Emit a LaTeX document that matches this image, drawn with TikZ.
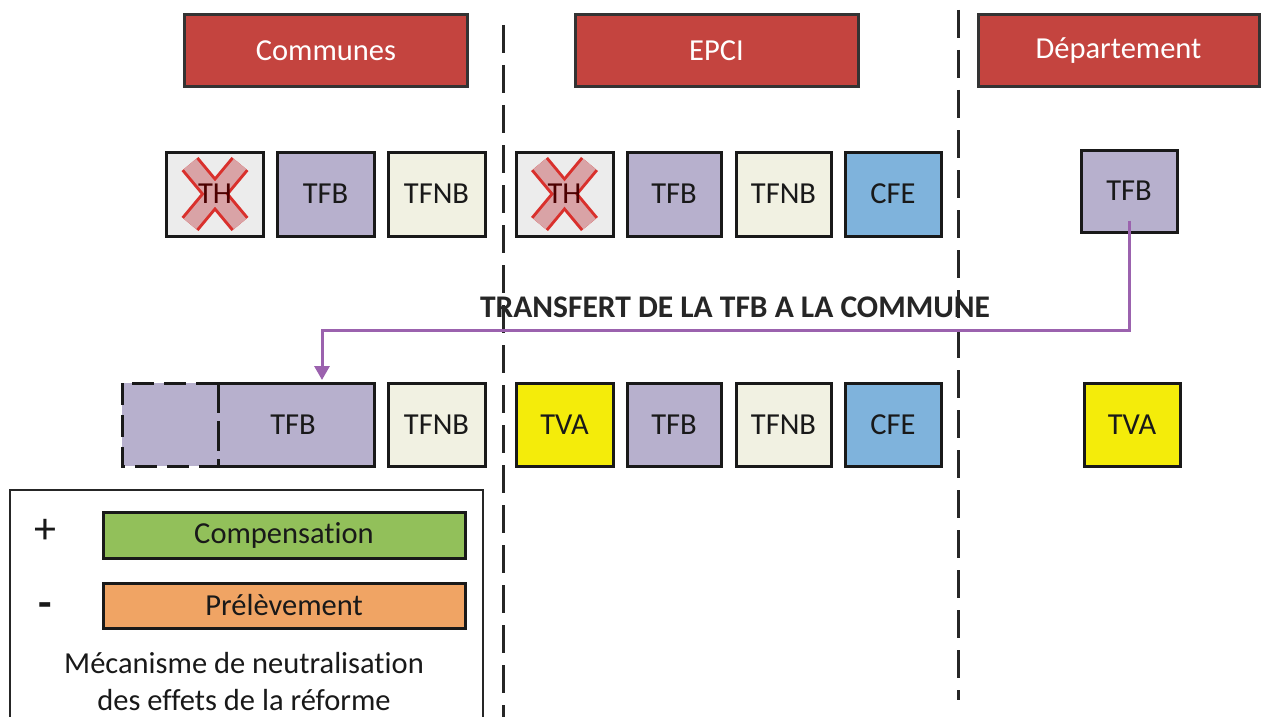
\documentclass[tikz,border=0pt]{standalone}
\usepackage{fontspec}
\setmainfont[Ligatures={NoCommon}]{Carlito}
\usetikzlibrary{arrows.meta,calc}
\definecolor{hdr}{HTML}{C4443F}
\definecolor{tfbc}{HTML}{B7B0CD}
\definecolor{tfnbc}{HTML}{F1F1E2}
\definecolor{thc}{HTML}{ECECEC}
\definecolor{cfec}{HTML}{7FB3DC}
\definecolor{tvac}{HTML}{F4EC0A}
\definecolor{greenc}{HTML}{92C05A}
\definecolor{orangec}{HTML}{F0A464}
\definecolor{xfill}{HTML}{D9A3A6}
\definecolor{xline}{HTML}{D9302C}
\definecolor{arrowc}{HTML}{9B62AE}
\tikzset{
  taxbox/.style={draw=black!90, line width=3pt, minimum width=97pt, minimum height=84pt, inner sep=0pt, text=black!90},
  hdrbox/.style={draw=black!80, line width=3pt, fill=hdr, minimum width=283pt, minimum height=72pt, inner sep=0pt, text=white},
  legbox/.style={draw=black!90, line width=3pt, minimum width=362pt, minimum height=45pt, inner sep=0pt, text=black!90},
  sepline/.style={line width=3pt, dash pattern=on 28pt off 12pt, black!85},
  transfer/.style={arrowc, line width=3pt, -{Triangle[width=15pt,length=14pt]}},
}
\newcommand{\myX}[1]{%
  \draw[xline, line width=22pt] ($(#1)+(-25,-30)$) -- ($(#1)+(25,30)$);
  \draw[xline, line width=22pt] ($(#1)+(25,-30)$) -- ($(#1)+(-25,30)$);
  \draw[xfill, line width=16pt] ($(#1)+(-25,-30)$) -- ($(#1)+(25,30)$);
  \draw[xfill, line width=16pt] ($(#1)+(25,-30)$) -- ($(#1)+(-25,30)$);
}
\begin{document}
\begin{tikzpicture}[x=1pt, y=-1pt, font=\fontsize{30.5}{36}\selectfont]
\useasboundingbox[fill=white] (0,0) rectangle (1262,717);

% separators
\draw[sepline] (503,25) -- (503,717);
\draw[sepline] (958,10) -- (958,700);

% headers
\node[hdrbox] (hc) at (326,51) {Communes};
\node[hdrbox] (he) at (716.5,51) {EPCI};
\node[hdrbox, minimum width=281pt] (hd) at (1118.5,51) {Département};

% row 1
\node[taxbox, fill=thc] (th1) at (215,194) {};
\myX{th1}
\node[text=black!70!red] at (th1) {TH};
\node[taxbox, fill=tfbc] (tfb1) at (325.5,194) {TFB};
\node[taxbox, fill=tfnbc] (tfnb1) at (436.5,194) {TFNB};
\node[taxbox, fill=thc] (th2) at (564.5,194) {};
\myX{th2}
\node[text=black!70!red] at (th2) {TH};
\node[taxbox, fill=tfbc, minimum width=94pt] (tfb2) at (674,194) {TFB};
\node[taxbox, fill=tfnbc, minimum width=95pt] (tfnb2) at (783.5,194) {TFNB};
\node[taxbox, fill=cfec, minimum width=96pt] (cfe1) at (893,194) {CFE};
\node[taxbox, fill=tfbc, minimum width=96pt, minimum height=82pt] (dtfb) at (1129,191) {TFB};

% row 2
\fill[tfbc] (122,383) rectangle (374,466);
\node[inner sep=0pt, minimum width=156pt, minimum height=83pt, text=black!90] (ctfb) at (293,424.5) {TFB};
\draw[black!90, line width=3pt] (218,383) -- (374,383) -- (374,466) -- (218,466);
\draw[black!90, line width=3pt, dash pattern=on 22pt off 10pt] (218,383) -- (122,383) -- (122,466) -- (218,466);
\draw[black!90, line width=3pt, dash pattern=on 30pt off 8pt] (218,383) -- (218,466);
\node[taxbox, fill=tfnbc, minimum height=83pt] (tfnb3) at (436.5,424.5) {TFNB};
\node[taxbox, fill=tvac, minimum height=83pt] (tva1) at (564.5,424.5) {TVA};
\node[taxbox, fill=tfbc, minimum width=94pt, minimum height=83pt] (tfb4) at (674,424.5) {TFB};
\node[taxbox, fill=tfnbc, minimum width=95pt, minimum height=83pt] (tfnb4) at (783.5,424.5) {TFNB};
\node[taxbox, fill=cfec, minimum width=96pt, minimum height=83pt] (cfe2) at (893,424.5) {CFE};
\node[taxbox, fill=tvac, minimum width=96pt, minimum height=83pt] (dtva) at (1132,424.5) {TVA};

% transfer arrow
\coordinate (arrin) at (322,380);
\draw[transfer] ([yshift=13pt]dtfb.south) |- (740,330) -| (arrin);
\node[font=\fontsize{31.5}{36}\selectfont\bfseries, text=black!85] (tlabel) at (735,307) {TRANSFERT DE LA TFB A LA COMMUNE};

% legend
\draw[black!85, line width=2.5pt] (10,720) -- (10,490) -- (483,490) -- (483,720);
\node[text=black!90, font=\fontsize{44}{48}\selectfont] (plus) at (45,531) {+};
\node[text=black!90, font=\fontsize{44}{48}\selectfont\bfseries] (minus) at (45,610) {-};
\node[legbox, fill=greenc, minimum height=46pt] (comp) at (284,535) {Compensation};
\node[legbox, fill=orangec] (prel) at (284,605.5) {Prélèvement};
\node[text=black!90] (l1) at (244,663) {Mécanisme de neutralisation};
\node[text=black!90] (l2) at (244,700) {des effets de la réforme};
\end{tikzpicture}
\end{document}
